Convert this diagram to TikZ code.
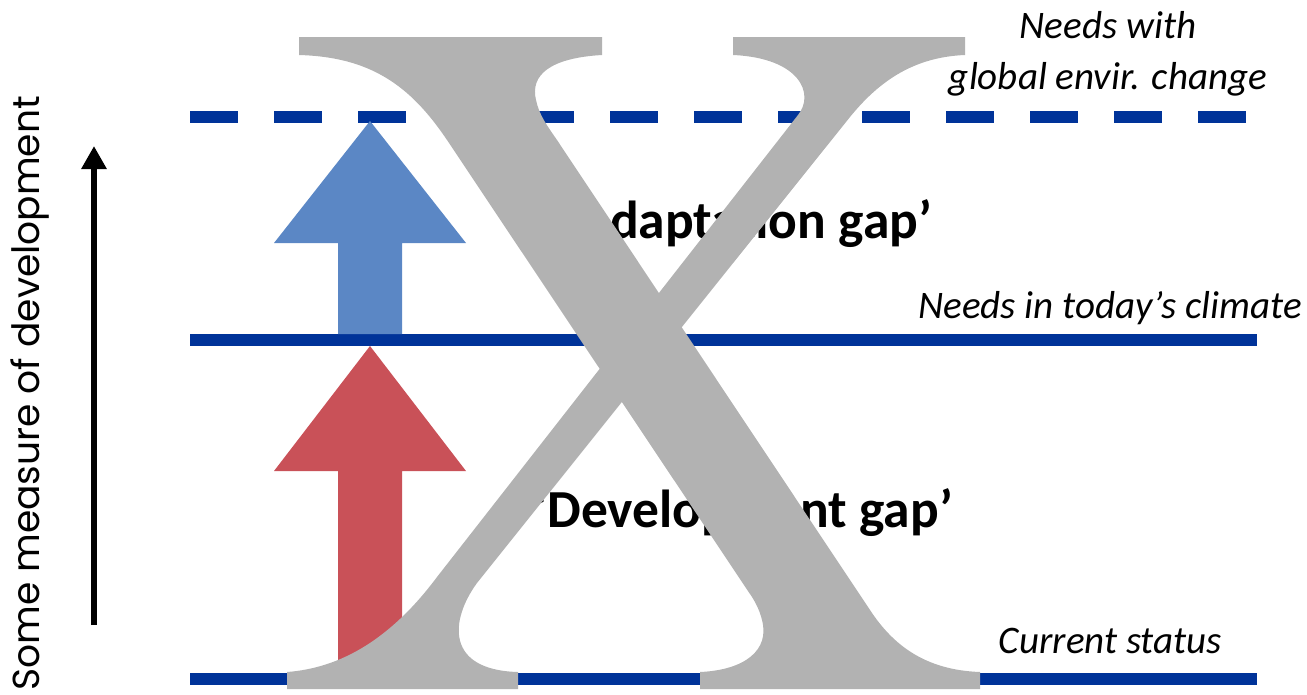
\documentclass[tikz,border=0pt]{standalone}
\usepackage{fontspec}
\usetikzlibrary{arrows.meta}
\newfontfamily\labfont{Carlito}
\newfontfamily\axfont{Poppins}
\definecolor{lineblue}{HTML}{003399}
\definecolor{arrblue}{RGB}{91,135,197}
\definecolor{arrred}{RGB}{201,81,88}
\definecolor{xgrey}{RGB}{178,178,178}
\tikzset{
  level/.style={draw=lineblue, line width=12pt},
  futurelevel/.style={level, dash pattern=on 48pt off 36pt},
  blockarrow/.style={draw=none},
  itlabel/.style={inner sep=0pt, font=\labfont\itshape\fontsize{39}{47}\selectfont},
  gaplabel/.style={inner sep=0pt, font=\labfont\bfseries\fontsize{53.5}{64}\selectfont},
  axlabel/.style={inner sep=0pt, font=\axfont\fontsize{37.6}{45}\selectfont},
  bigx/.style={fill=xgrey, draw=none}
}
\begin{document}
\begin{tikzpicture}[x=1pt,y=-1pt]
\useasboundingbox (0,0) rectangle (1307,694);
% level lines
\coordinate (fL) at (190,116.5);
\coordinate (fR) at (1246,116.5);
\coordinate (tL) at (190,340);
\coordinate (tR) at (1257,340);
\coordinate (cL) at (190,678.5);
\coordinate (cR) at (1257,678.5);
\draw[futurelevel] (fL) -- (fR);
\draw[level] (tL) -- (tR);
\draw[level] (cL) -- (cR);
% block arrows
\fill[arrblue, blockarrow] (338,334) -- (338,243) -- (274,243) -- (370,121) -- (466,243) -- (402,243) -- (402,334) -- cycle;
\fill[arrred, blockarrow] (338,672) -- (338,471) -- (274,471) -- (370,346) -- (466,471) -- (402,471) -- (402,672) -- cycle;
% axis
\coordinate (axB) at (94,625);
\coordinate (axT) at (94,146);
\draw[line width=6.5pt, -{Triangle[width=24pt,length=23pt]}] (axB) -- (axT);
\node[axlabel, rotate=90, anchor=base west] (axis) at (39,691) {Some measure of development};
% labels
\node[itlabel, anchor=base] (needs1) at (1108,38) {Needs with};
\node[itlabel, anchor=base] (needs2) at (1108,89) {global envir. change};
\node[itlabel, anchor=base east] (needs0) at (1302,318) {Needs in today’s climate};
\node[itlabel, anchor=base east] (curr) at (1222,653) {Current status};
\node[gaplabel, anchor=base east] (adapt) at (932,238) {‘Adaptation gap’};
\node[gaplabel, anchor=base east] (devel) at (953,527) {‘Development gap’};
% big X
\fill[bigx] (299,37) -- (602,37) -- (602,55)
  .. controls (550,58) and (530,75) .. (536,100)
  .. controls (539,115) and (548,127) .. (557,140)
  -- (870,610)
  .. controls (893,645) and (925,670) .. (980,672)
  -- (980,689) -- (700,689) -- (700,672)
  .. controls (745,670) and (770,650) .. (762,620)
  .. controls (760,612) and (757,605) .. (752,597)
  -- (447,140)
  .. controls (410,85) and (370,57) .. (299,55) -- cycle;
\fill[bigx] (733,37) -- (965,37) -- (965,55)
  .. controls (915,57) and (880,80) .. (850,117)
  -- (477,583)
  .. controls (450,620) and (445,670) .. (518,672)
  -- (518,689) -- (287,689) -- (287,672)
  .. controls (340,668) and (390,640) .. (437,577)
  -- (798,115)
  .. controls (815,94) and (800,58) .. (733,55) -- cycle;
\end{tikzpicture}
\end{document}
